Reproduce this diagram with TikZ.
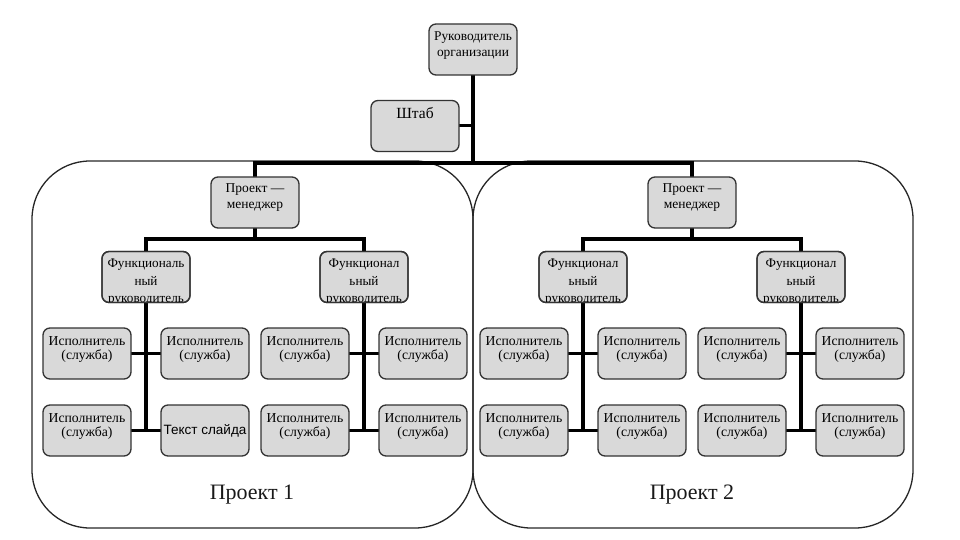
\documentclass[tikz,border=0pt]{standalone}
\usepackage{fontspec}
\setmainfont{Liberation Serif}
\newfontfamily\sansf{Liberation Sans}
\definecolor{boxgray}{HTML}{D9D9D9}
\definecolor{edgegray}{HTML}{333333}
\tikzset{
  bx/.style={draw=edgegray, line width=1.3pt, fill=boxgray, rounded corners=7pt,
    minimum width=88pt, minimum height=51pt, inner sep=0pt},
  bxtext/.style={anchor=north, align=center, inner sep=0pt,
    font=\fontsize{13.7}{14.5}\selectfont, text=black},
  conn/.style={line width=3.5pt, black},
  frame/.style={line width=1.3pt, black!85, rounded corners=58pt},
  lbl/.style={anchor=base, inner sep=0pt, font=\fontsize{22}{24}\selectfont, text=black!90},
}
% name, cx, cy, first-baseline offset from top, extra style, text
\newcommand\bxn[6]{%
  \node[bx] (#1) at (#2,#3) {};
  \node[bxtext,#5] (#1t) at (#2,#3-25.5+#4-12) {\rule{0pt}{12pt}#6};
}
% functional manager box with clipped third line: name, cx, text
\newcommand\fmn[3]{%
  \node[bx] (#1) at (#2,277) {};
  \begin{scope}
    \clip[rounded corners=7pt] (#2-44,251.5) rectangle (#2+44,302.5);
    \node[bxtext, font=\fontsize{13.2}{17.5}\selectfont] (#1t) at (#2,277-25.5+16-12) {\rule{0pt}{12pt}#3};
  \end{scope}
  \draw[line width=1.3pt, draw=edgegray, rounded corners=7pt] (#2-44,251.5) rectangle (#2+44,302.5);
}
% three executors of a group: prefix, vertical x
\newcommand\grp[2]{%
  \bxn{#11}{#2-59}{353.5}{17}{}{Исполнитель\\(служба)}
  \bxn{#12}{#2+59}{353.5}{17}{}{Исполнитель\\(служба)}
  \bxn{#13}{#2-59}{430.5}{17}{}{Исполнитель\\(служба)}
}
\begin{document}
\begin{tikzpicture}[x=1pt, y=-1pt]
\useasboundingbox (0,0) rectangle (960,540);

% project frames
\draw[frame] (32,161) rectangle (473,528);
\draw[frame] (473,161) rectangle (913,528);

% junction coordinates
\coordinate (bus) at (473,163);
\coordinate (j1) at (255,239);
\coordinate (j2) at (692,239);
\coordinate (topS) at (473,75);
\coordinate (shJ) at (473,125.5);

% connectors (drawn first, boxes cover ends)
\draw[conn] (topS) -- (bus);
\draw[conn] (459,125.5) -- (shJ);
\draw[conn] (255,177) |- (bus) -| (692,177);
\draw[conn] (255,228) -- (j1);
\draw[conn] (692,228) -- (j2);
\draw[conn] (146,253) |- (j1) -| (364,253);
\draw[conn] (583,253) |- (j2) -| (801,253);
\foreach \vx in {146,364,583,801}{
  \draw[conn] (\vx,302) -- (\vx,430.5);
  \draw[conn] (\vx-15,353.5) -- (\vx+15,353.5);
  \draw[conn] (\vx-15,430.5) -- (\vx+15,430.5);
}

% boxes
\bxn{top}{473}{49.5}{16}{font=\fontsize{13.4}{16}\selectfont}{Руководитель\\организации}
\bxn{shtab}{415}{126}{17.5}{font=\fontsize{15.5}{16}\selectfont}{Штаб}
\bxn{pm1}{255}{202.5}{15}{font=\fontsize{13.5}{16}\selectfont}{Проект —\\менеджер}
\bxn{pm2}{692}{202.5}{15}{font=\fontsize{13.5}{16}\selectfont}{Проект —\\менеджер}

\fmn{fm1}{146}{Функциональ\\ный\\руководитель}
\fmn{fm2}{364}{Функционал\\ьный\\руководитель}
\fmn{fm3}{583}{Функционал\\ьный\\руководитель}
\fmn{fm4}{801}{Функционал\\ьный\\руководитель}

\grp{a}{146}
\node[bx] (a4) at (205,430.5) {};
\node[inner sep=0pt, font=\sansf\fontsize{13.5}{15}\selectfont, text=black] (a4t) at (205,430.5) {Текст слайда};
\grp{b}{364}
\bxn{b4}{423}{430.5}{17}{}{Исполнитель\\(служба)}
\grp{c}{583}
\bxn{c4}{642}{430.5}{17}{}{Исполнитель\\(служба)}
\grp{d}{801}
\bxn{d4}{860}{430.5}{17}{}{Исполнитель\\(служба)}

% project labels
\node[lbl] (p1) at (252,499) {Проект 1};
\node[lbl] (p2) at (692,499) {Проект 2};
\end{tikzpicture}
\end{document}
